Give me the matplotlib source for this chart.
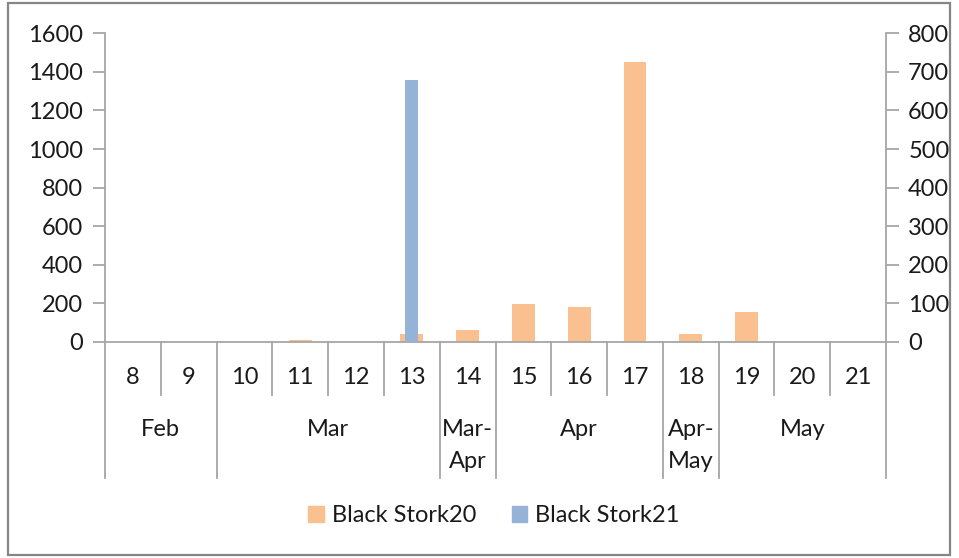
import matplotlib
matplotlib.use("Agg")
import matplotlib.pyplot as plt
from matplotlib.patches import Rectangle, Patch
from matplotlib.transforms import blended_transform_factory

plt.rcParams['font.family'] = ['Lato', 'DejaVu Sans']

# Weekly counts
weeks = ['8', '9', '10', '11', '12', '13', '14', '15', '16', '17', '18', '19', '20', '21']
stork20 = [0, 0, 0, 9, 0, 41, 61, 196, 182, 1450, 41, 154, 0, 0]
stork21 = [0, 0, 0, 0, 0, 678, 0, 0, 0, 0, 0, 0, 0, 0]

# Month groups: label and number of weeks covered
groups = ['Feb', 'Mar', 'Mar-\nApr', 'Apr', 'Apr-\nMay', 'May']
group_sizes = [2, 4, 1, 3, 1, 3]

c20 = '#FAC090'
c21 = '#95B3D7'
axis_col = '#A6A6A6'
text_col = '#1a1a1a'
fs = 17

W, H = 959, 558
fig = plt.figure(figsize=(W / 100, H / 100), dpi=100)

x0, x1 = 105, 886
y0, y1 = 342, 33.3
ax = fig.add_axes([x0 / W, (H - y0) / H, (x1 - x0) / W, (y0 - y1) / H])
ax2 = ax.twinx()

xs = list(range(len(weeks)))
ax.bar(xs, stork20, width=0.41, color=c20, zorder=2)
ax2.bar(xs, stork21, width=0.23, color=c21, zorder=3)

ax.set_xlim(-0.5, len(weeks) - 0.5)
ax.set_ylim(0, 1600)
ax2.set_ylim(0, 800)
ax.set_yticks(range(0, 1601, 200))
ax2.set_yticks(range(0, 801, 100))
ax.set_xticks([])

for a in (ax, ax2):
    for s in a.spines.values():
        s.set_visible(False)
    a.tick_params(axis='y', length=9, width=1.3, color=axis_col,
                  labelsize=fs, labelcolor=text_col, pad=7)
ax.spines['left'].set_visible(True)
ax.spines['left'].set_color(axis_col)
ax.spines['left'].set_linewidth(1.3)
ax2.spines['right'].set_visible(True)
ax2.spines['right'].set_color(axis_col)
ax2.spines['right'].set_linewidth(1.3)
ax.spines['bottom'].set_visible(True)
ax.spines['bottom'].set_color(axis_col)
ax.spines['bottom'].set_linewidth(1.3)

# Two-level category axis drawn below the plot
hpx = y0 - y1
def fy(pix):
    return (y0 - pix) / hpx

tr = blended_transform_factory(ax.transData, ax.transAxes)
y_num = fy(378)
y_inner = fy(395)
y_outer = fy(478)
y_grp = fy(429)
line_gap = fy(429) - fy(461)

for i, w in enumerate(weeks):
    ax.text(i, y_num, w, transform=tr, ha='center', va='center',
            fontsize=fs, color=text_col)

bounds = [-0.5]
for n in group_sizes:
    bounds.append(bounds[-1] + n)

for b in range(len(weeks) + 1):
    xb = b - 0.5
    bottom = y_outer if xb in bounds else y_inner
    ax.plot([xb, xb], [0, bottom], transform=tr, color=axis_col,
            lw=1.3, clip_on=False, zorder=1)

for g, a0, a1 in zip(groups, bounds[:-1], bounds[1:]):
    xc = (a0 + a1) / 2
    for k, line in enumerate(g.split('\n')):
        ax.text(xc, y_grp - k * line_gap, line, transform=tr, ha='center',
                va='center', fontsize=fs, color=text_col)

handles = [Patch(color=c20, label='Black Stork20'),
           Patch(color=c21, label='Black Stork21')]
fig.legend(handles=handles, loc='center', bbox_to_anchor=(0.515, 42 / H),
           ncol=2, frameon=False, fontsize=fs, handlelength=0.65,
           handleheight=0.65, handletextpad=0.35, columnspacing=1.5,
           labelcolor=text_col)

fig.patches.append(Rectangle((8 / W, 3 / H), (950 - 8) / W, (555 - 3) / H,
                             transform=fig.transFigure, fill=False,
                             edgecolor='#868686', lw=1.6))

fig.savefig('out.png', dpi=100)
